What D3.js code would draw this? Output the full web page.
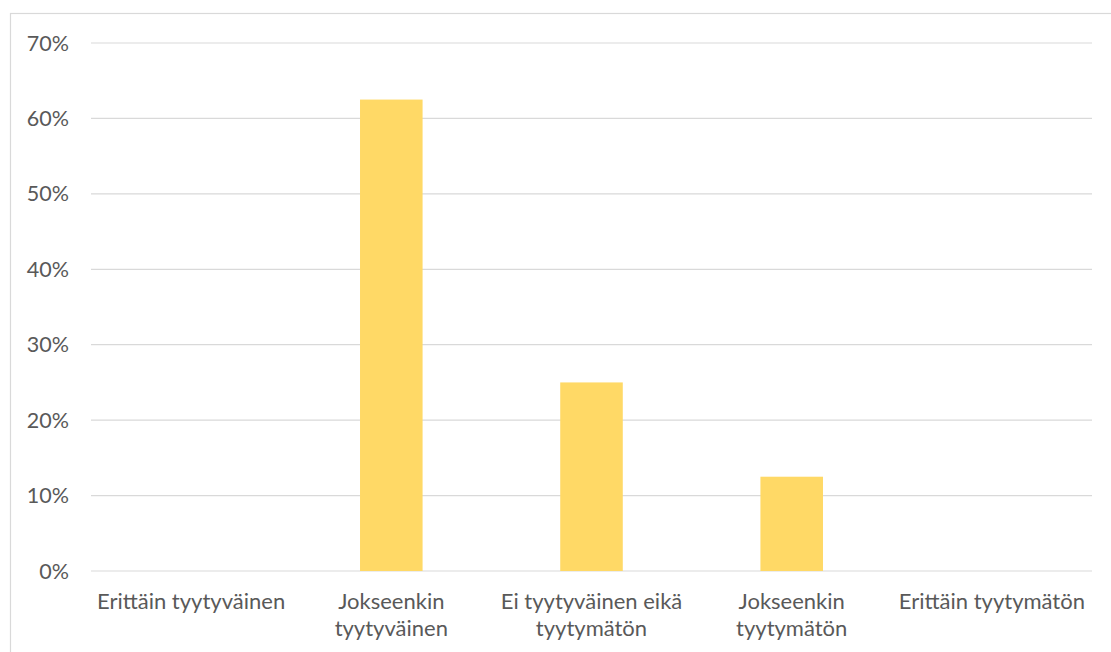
<!DOCTYPE html>
<html><head><meta charset="utf-8">
<script src="https://cdn.jsdelivr.net/npm/d3@7"></script>
<style>body{margin:0;background:#fff;} text{font-family:Lato,"Open Sans",sans-serif;fill:#595959;}</style>
</head><body>
<svg id="c" width="1111" height="652"></svg>
<script>
const categories = ["Erittäin tyytyväinen", "Jokseenkin tyytyväinen", "Ei tyytyväinen eikä tyytymätön", "Jokseenkin tyytymätön", "Erittäin tyytymätön"];
const labelLines = [["Erittäin tyytyväinen"], ["Jokseenkin", "tyytyväinen"], ["Ei tyytyväinen eikä", "tyytymätön"], ["Jokseenkin", "tyytymätön"], ["Erittäin tyytymätön"]];
const values = [0, 62.5, 25, 12.5, 0];
const yTicks = [0, 10, 20, 30, 40, 50, 60, 70];

const svg = d3.select("#c");
const m = {left: 91, right: 1092, top: 43, bottom: 571};
svg.append("rect").attr("x", 10.5).attr("y", 13.5).attr("width", 1120).attr("height", 700)
  .attr("fill", "none").attr("stroke", "#d9d9d9").attr("stroke-width", 1.2);

const x = d3.scaleBand().domain(categories).range([m.left, m.right]).paddingInner(0.6875).paddingOuter(0.34375);
const y = d3.scaleLinear().domain([0, 70]).range([m.bottom, m.top]);

svg.append("g").selectAll("line").data(yTicks).join("line")
  .attr("x1", m.left).attr("x2", m.right)
  .attr("y1", d => y(d)).attr("y2", d => y(d))
  .attr("stroke", "#d9d9d9").attr("stroke-width", 1.2);

svg.append("g").selectAll("text").data(yTicks).join("text")
  .attr("x", 69).attr("y", d => y(d)).attr("dy", "0.35em")
  .attr("text-anchor", "end").attr("font-size", 21.5).text(d => d + "%");

svg.append("g").selectAll("rect").data(values).join("rect")
  .attr("x", (d, i) => x(categories[i])).attr("width", x.bandwidth())
  .attr("y", d => y(d)).attr("height", d => y(0) - y(d))
  .attr("fill", "#ffd966");

const lg = svg.append("g").selectAll("text").data(categories).join("text")
  .attr("text-anchor", "middle").attr("font-size", 22)
  .attr("x", d => x(d) + x.bandwidth() / 2);
lg.each(function(d, i) {
  d3.select(this).selectAll("tspan").data(labelLines[i]).join("tspan")
    .attr("x", x(d) + x.bandwidth() / 2)
    .attr("y", (t, j) => 609 + j * 27).text(t => t);
});
</script>
</body></html>
